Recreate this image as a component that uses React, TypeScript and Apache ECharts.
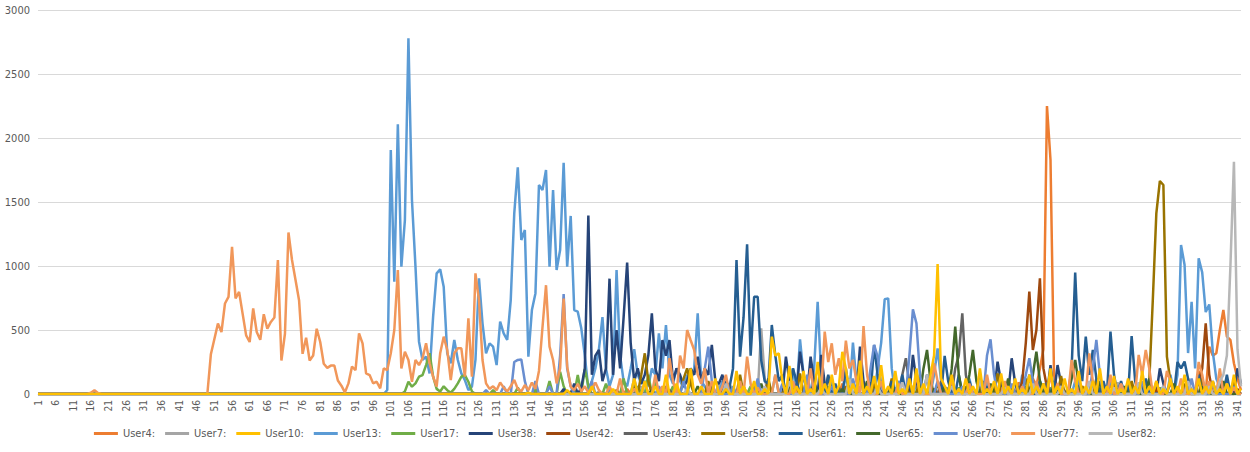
import React, { useEffect, useRef } from "react";
import * as echarts from "echarts";

const N = 342;
const categories: string[] = Array.from({ length: N }, (_, i) => String(i + 1));
const yTicks = [0, 500, 1000, 1500, 2000, 2500, 3000];

// [category, value] pairs; categories not listed are 0
const user4: [number, number][] = [[152,20],[168,40],[185,30],[201,60],[214,40],[229,80],[244,50],[258,60],[270,40],[279,90],[283,120],[284,60],[285,200],[286,350],[287,2250],[288,1830],[289,150],[290,40],[297,60],[305,80],[312,50],[318,90],[323,60],[327,120],[330,180],[331,90],[333,370],[334,300],[335,318],[336,500],[337,656],[338,448],[339,422],[340,240],[341,120],[342,30]];
const user7: [number, number][] = [[160,20],[172,60],[181,40],[194,80],[203,50],[206,513],[207,120],[215,60],[226,90],[233,40],[247,70],[259,50],[268,100],[277,60],[289,80],[298,40],[307,90],[316,60],[324,40],[332,70],[339,30]];
const user10: [number, number][] = [[140,10],[151,30],[158,60],[164,40],[170,120],[173,100],[176,60],[179,150],[182,80],[186,200],[189,60],[193,120],[196,40],[199,180],[201,60],[204,100],[207,40],[209,448],[210,300],[211,318],[212,100],[214,220],[216,60],[218,180],[220,40],[222,250],[224,80],[226,150],[228,60],[229,330],[230,200],[232,80],[234,260],[236,60],[238,140],[240,226],[242,60],[244,180],[246,40],[248,120],[250,200],[252,80],[254,150],[255,300],[256,1016],[257,120],[258,60],[260,150],[262,40],[264,120],[266,60],[268,200],[270,40],[272,100],[274,160],[276,60],[278,120],[280,40],[282,150],[284,60],[286,80],[288,200],[290,60],[292,120],[294,40],[296,180],[298,60],[300,100],[302,200],[304,60],[306,140],[308,40],[310,120],[312,60],[314,180],[316,60],[318,100],[320,40],[322,120],[324,60],[326,150],[328,40],[330,120],[332,60],[334,100],[336,40],[338,80],[340,150],[342,40]];
const user13: [number, number][] = [[100,31],[101,1906],[102,878],[103,2107],[104,995],[105,1359],[106,2779],[107,1516],[108,995],[109,409],[110,266],[111,292],[112,161],[113,604],[114,943],[115,974],[116,838],[117,318],[118,240],[119,422],[120,266],[121,161],[122,109],[123,31],[124,57],[125,266],[126,904],[127,552],[128,318],[129,396],[130,370],[131,226],[132,565],[133,474],[134,422],[135,734],[136,1411],[137,1771],[138,1203],[139,1281],[140,292],[141,656],[142,786],[143,1633],[144,1594],[145,1750],[146,995],[147,1594],[148,969],[149,1125],[150,1807],[151,995],[152,1391],[153,656],[154,643],[155,513],[156,300],[157,40],[158,100],[159,200],[160,350],[161,600],[162,200],[163,60],[164,150],[165,969],[166,300],[167,100],[168,60],[169,200],[170,350],[171,150],[172,80],[173,100],[174,60],[175,200],[176,150],[177,474],[178,200],[179,539],[180,150],[181,80],[182,200],[183,100],[184,50],[185,150],[186,100],[187,200],[188,630],[189,100],[190,60],[195,100],[200,80],[205,100],[210,150],[215,200],[217,427],[218,150],[221,200],[222,721],[223,150],[226,100],[230,150],[232,401],[233,100],[236,80],[239,200],[240,400],[241,740],[242,747],[243,200],[245,100],[250,80],[255,150],[256,357],[257,100],[260,80],[265,120],[270,100],[275,80],[280,150],[285,100],[290,60],[295,100],[300,80],[305,120],[310,80],[315,100],[320,60],[322,150],[324,150],[325,1164],[326,1010],[327,320],[328,720],[329,200],[330,1060],[331,950],[332,640],[333,700],[334,330],[335,120],[336,60],[337,40],[338,100],[339,40],[340,20]];
const user17: [number, number][] = [[105,20],[106,96],[107,57],[108,83],[109,135],[110,148],[111,226],[112,318],[113,135],[114,40],[115,20],[116,60],[117,30],[118,10],[119,40],[120,83],[121,135],[122,148],[123,96],[124,20],[130,30],[137,50],[142,40],[146,100],[149,174],[150,60],[154,148],[156,200],[157,60],[162,80],[167,120],[171,60],[174,150],[176,90],[181,60],[186,110],[192,50],[197,80],[203,60],[208,100],[213,40],[219,90],[225,60],[231,120],[237,50],[243,80],[249,40],[254,70],[262,50],[269,90],[275,40],[281,60],[288,50],[296,80],[304,40],[311,60],[319,50],[327,70],[335,40]];
const user38: [number, number][] = [[150,40],[153,80],[155,50],[156,200],[157,1394],[158,150],[159,300],[160,344],[161,100],[162,200],[163,901],[164,150],[165,500],[166,200],[167,600],[168,1026],[169,400],[170,100],[171,200],[172,80],[173,150],[174,300],[175,630],[176,200],[177,100],[178,422],[179,300],[180,422],[181,100],[182,200],[183,150],[184,60],[185,100],[186,200],[187,150],[188,292],[189,100],[190,200],[191,150],[192,383],[193,100],[194,80],[195,150],[197,60],[213,292],[214,100],[217,331],[218,150],[220,292],[221,100],[223,305],[224,80],[234,370],[235,100],[249,305],[250,100],[273,253],[274,90],[277,279],[278,80],[288,226],[290,226],[291,80],[319,200],[320,80],[341,200],[342,80]];
const user42: [number, number][] = [[240,20],[255,40],[268,30],[276,60],[280,100],[281,400],[282,800],[283,344],[284,500],[285,904],[286,200],[287,50],[296,40],[308,60],[318,40],[326,60],[330,100],[331,200],[332,552],[333,150],[337,60],[341,40]];
const user43: [number, number][] = [[180,30],[192,60],[205,40],[216,80],[228,50],[237,90],[243,60],[246,150],[247,279],[248,80],[252,60],[257,100],[261,200],[262,300],[263,630],[264,150],[268,80],[274,120],[279,60],[287,90],[293,50],[303,80],[313,60],[322,100],[329,50],[336,80]];
const user58: [number, number][] = [[165,30],[170,80],[172,150],[173,318],[174,100],[179,60],[184,120],[185,200],[186,80],[191,100],[195,40],[200,150],[204,60],[208,120],[213,60],[217,160],[221,80],[225,140],[230,60],[234,180],[238,80],[243,120],[247,60],[251,150],[256,80],[260,120],[264,60],[269,100],[273,160],[277,60],[281,120],[286,80],[291,140],[297,60],[301,120],[306,80],[311,100],[314,60],[316,100],[317,734],[318,1411],[319,1664],[320,1633],[321,292],[322,100],[326,80],[331,120],[336,60],[340,100]];
const user61: [number, number][] = [[196,100],[197,50],[198,200],[199,1047],[200,292],[201,600],[202,1170],[203,300],[204,760],[205,760],[206,266],[207,100],[208,80],[209,539],[210,300],[211,100],[212,150],[215,200],[216,100],[219,120],[225,150],[227,80],[230,200],[232,100],[238,383],[239,150],[243,100],[246,150],[253,150],[258,297],[259,100],[262,150],[265,100],[268,150],[270,60],[282,150],[285,100],[289,100],[294,200],[295,948],[296,300],[297,100],[298,448],[299,150],[300,344],[301,120],[303,100],[305,487],[306,150],[308,100],[311,453],[312,100],[315,120],[324,250],[325,200],[326,253],[327,120],[330,150],[334,100],[338,150],[340,60]];
const user65: [number, number][] = [[175,30],[188,60],[197,40],[206,80],[214,50],[221,90],[229,40],[236,100],[243,60],[248,120],[252,200],[253,344],[254,100],[258,60],[260,200],[261,526],[262,150],[265,150],[266,344],[267,100],[271,80],[276,120],[280,60],[283,150],[284,331],[285,100],[289,60],[294,120],[295,266],[296,80],[302,100],[309,60],[316,120],[323,80],[331,60],[337,100]];
const user70: [number, number][] = [[128,30],[133,60],[136,250],[137,266],[138,270],[139,100],[142,100],[146,60],[149,300],[150,780],[151,200],[152,60],[158,100],[163,40],[170,120],[177,60],[184,100],[190,200],[191,370],[192,100],[198,60],[205,120],[212,80],[219,150],[226,60],[232,120],[237,200],[238,383],[239,292],[240,80],[245,100],[248,300],[249,661],[250,552],[251,150],[256,100],[263,60],[268,150],[270,300],[271,427],[272,150],[277,80],[281,150],[282,279],[283,100],[290,60],[296,120],[300,200],[301,422],[302,150],[308,80],[314,100],[320,60],[328,120],[334,80],[340,60]];
const user77: [number, number][] = [[16,10],[17,30],[18,8],[50,310],[51,430],[52,550],[53,484],[54,707],[55,759],[56,1150],[57,746],[58,798],[59,628],[60,458],[61,406],[62,668],[63,484],[64,424],[65,623],[66,510],[67,563],[68,597],[69,1047],[70,262],[71,471],[72,1262],[73,1047],[74,890],[75,733],[76,314],[77,440],[78,262],[79,301],[80,510],[81,406],[82,236],[83,204],[84,222],[85,222],[86,105],[87,65],[88,13],[89,83],[90,214],[91,187],[92,474],[93,396],[94,161],[95,148],[96,83],[97,96],[98,44],[99,200],[100,187],[101,318],[102,500],[103,969],[104,200],[105,330],[106,266],[107,96],[108,266],[109,226],[110,279],[111,396],[112,240],[113,135],[114,57],[115,318],[116,448],[117,344],[118,109],[119,318],[120,357],[121,357],[122,135],[123,591],[124,135],[125,943],[126,734],[127,266],[128,83],[129,40],[130,60],[131,30],[132,90],[133,50],[134,20],[135,60],[136,110],[137,40],[138,20],[139,70],[140,30],[141,90],[142,40],[143,180],[144,520],[145,850],[146,370],[147,266],[148,83],[149,200],[150,745],[151,214],[152,57],[153,30],[154,80],[155,20],[156,60],[157,10],[158,40],[159,90],[160,30],[163,60],[166,120],[170,40],[173,90],[176,150],[178,60],[180,280],[181,100],[183,300],[184,200],[185,500],[186,420],[187,344],[188,150],[189,80],[190,200],[192,100],[195,60],[196,150],[200,100],[202,292],[203,80],[205,50],[210,150],[215,100],[220,200],[224,487],[225,250],[226,396],[227,150],[228,279],[229,100],[230,417],[231,200],[232,266],[233,100],[235,531],[236,150],[240,100],[245,80],[250,150],[255,240],[256,100],[260,120],[265,80],[270,150],[275,100],[280,60],[284,100],[288,150],[290,80],[294,266],[295,100],[299,318],[300,100],[305,150],[308,80],[313,305],[314,150],[315,344],[316,200],[318,100],[321,180],[322,100],[325,120],[330,250],[331,150],[333,100],[336,200],[338,80],[340,50]];
const user82: [number, number][] = [[185,40],[196,80],[207,60],[214,100],[223,50],[231,120],[239,60],[246,90],[253,150],[260,60],[268,110],[275,50],[283,80],[291,60],[299,100],[306,50],[313,90],[320,60],[327,100],[333,60],[336,100],[337,150],[338,300],[339,1000],[340,1815],[341,350],[342,60]];

const seriesNames = ["User4:", "User7:", "User10:", "User13:", "User17:", "User38:", "User42:", "User43:", "User58:", "User61:", "User65:", "User70:", "User77:", "User82:"];
const seriesData = [user4, user7, user10, user13, user17, user38, user42, user43, user58, user61, user65, user70, user77, user82];
const seriesColors = ["#ED7D31", "#A5A5A5", "#FFC000", "#5B9BD5", "#70AD47", "#264478", "#9E480E", "#636363", "#997300", "#255E91", "#43682B", "#698ED0", "#F1975A", "#B7B7B7"];

function build(pairs: [number, number][]): number[] {
  const arr = new Array(N).fill(0);
  pairs.forEach(([c, v]) => {
    arr[c - 1] = v;
  });
  return arr;
}

const FONT = "'Liberation Sans Narrow', 'DejaVu Sans Condensed', 'Roboto', sans-serif";

export default function App() {
  const ref = useRef<HTMLDivElement>(null);
  useEffect(() => {
    document.body.style.margin = "0";
    if (!ref.current) return;
    const chart = echarts.init(ref.current, undefined, { renderer: "svg" });
    chart.setOption({
      animation: false,
      backgroundColor: "#ffffff",
      textStyle: { fontFamily: FONT },
      grid: { left: 38, right: 9, top: 10, bottom: 58, containLabel: false },
      legend: {
        bottom: 8,
        left: "center",
        icon: "rect",
        itemWidth: 24,
        itemHeight: 3,
        itemGap: 10,
        textStyle: { fontSize: 11, color: "#595959", fontFamily: FONT },
        data: seriesNames,
      },
      xAxis: {
        type: "category",
        data: categories,
        boundaryGap: false,
        axisLine: { lineStyle: { color: "#D9D9D9" } },
        axisTick: { show: false },
        axisLabel: {
          interval: 4,
          rotate: 90,
          fontSize: 10,
          color: "#595959",
          margin: 6,
          fontFamily: FONT,
        },
        splitLine: { show: false },
      },
      yAxis: {
        type: "value",
        min: yTicks[0],
        max: yTicks[yTicks.length - 1],
        interval: 500,
        axisLine: { show: false },
        axisTick: { show: false },
        axisLabel: {
          fontSize: 11,
          color: "#595959",
          margin: 8,
          fontFamily: FONT,
          formatter: (v: number) => String(v),
        },
        splitLine: { lineStyle: { color: "#D9D9D9", width: 1 } },
      },
      series: seriesNames.map((name, i) => ({
        name,
        type: "line",
        data: build(seriesData[i]),
        symbol: "none",
        smooth: false,
        color: seriesColors[i],
        z: name === "User10:" ? 4 : 2,
        lineStyle: { width: 2.5, color: seriesColors[i] },
      })),
    });
    return () => chart.dispose();
  }, []);
  return <div ref={ref} style={{ width: 1250, height: 452 }} />;
}
